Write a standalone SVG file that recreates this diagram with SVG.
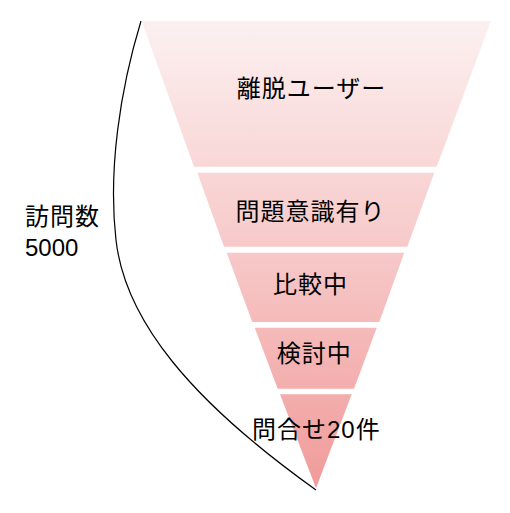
<svg xmlns="http://www.w3.org/2000/svg" width="510" height="513" viewBox="0 0 510 513">
<defs>
<linearGradient id="g" gradientUnits="userSpaceOnUse" x1="0" y1="21" x2="0" y2="488">
<stop offset="0" stop-color="#FCF0F0"/>
<stop offset="0.5" stop-color="#F7C8C8"/>
<stop offset="1" stop-color="#F09B9A"/>
</linearGradient>
</defs>
<style>
.seg{fill:url(#g);stroke:none}
.t{font-family:"Liberation Sans","Noto Sans CJK JP",sans-serif;font-size:24px;fill:#000;text-anchor:middle;letter-spacing:1px}
.tl{font-family:"Liberation Sans","Noto Sans CJK JP",sans-serif;font-size:24px;fill:#000}
.c{fill:none;stroke:#000;stroke-width:1.2}
</style>
<rect width="510" height="513" fill="#fff"/>
<g id="connectors">
<path class="c" d="M141,21 C120,90 108,170 116,240 C125,320 190,400 316,490"/>
</g>
<g id="node1">
<polygon class="seg" points="141.7,21 491,21 436.7,166.7 194,166.7"/>
<text class="t" x="311.5" y="97">離脱ユーザー</text>
</g>
<g id="node2">
<polygon class="seg" points="197.3,172.7 434.3,172.7 407.3,246.7 224,246.7"/>
<text class="t" x="310.5" y="220">問題意識有り</text>
</g>
<g id="node3">
<polygon class="seg" points="226.7,252.7 404.3,252.7 379.3,322 252.3,322"/>
<text class="t" x="310.5" y="293">比較中</text>
</g>
<g id="node4">
<polygon class="seg" points="254.7,327.7 376.7,327.7 354,388.7 277.7,388.7"/>
<text class="t" x="314.2" y="361.5">検討中</text>
</g>
<g id="node5">
<polygon class="seg" points="280,394.3 351.7,394.3 316,488.3"/>
<text class="t" x="316.3" y="438">問合せ20件</text>
</g>
<g id="label">
<text class="tl" x="25" y="225" style="letter-spacing:1px">訪問数</text>
<text class="tl" x="25" y="256">5000</text>
</g>
</svg>
